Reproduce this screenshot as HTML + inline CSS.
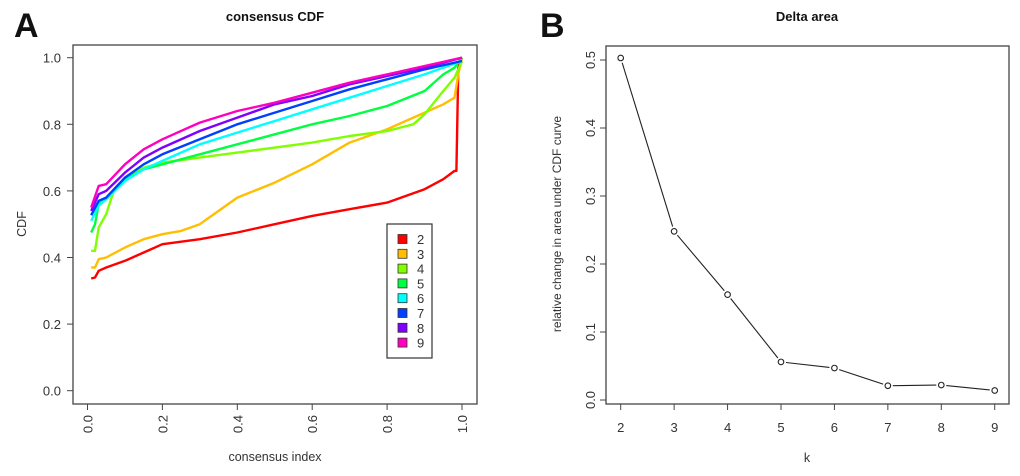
<!DOCTYPE html>
<html><head><meta charset="utf-8">
<style>
body{margin:0;background:#fff;width:1020px;height:476px;overflow:hidden}
svg{display:block;font-family:"Liberation Sans",Arial,sans-serif}
</style></head>
<body>
<svg id="svg" width="1020" height="476" viewBox="0 0 1020 476">
<text x="14" y="37" font-size="34" font-weight="bold" fill="#111">A</text>
<text x="275" y="21" font-size="13" font-weight="bold" text-anchor="middle" fill="#111">consensus CDF</text>
<rect x="73" y="45" width="404" height="359" fill="none" stroke="#444" stroke-width="1.3"/>
<g id="cdfAxes"></g>
<g id="cdfLines"></g>
<text x="275" y="461" font-size="12.5" text-anchor="middle" fill="#333">consensus index</text>
<text transform="translate(26,224) rotate(-90)" font-size="12.5" text-anchor="middle" fill="#333">CDF</text>
<g id="legend"><rect x="387" y="224" width="45" height="134" fill="#fff" stroke="#333" stroke-width="1.2"/></g>

<text x="540" y="37" font-size="34" font-weight="bold" fill="#111">B</text>
<text x="807" y="21" font-size="13" font-weight="bold" text-anchor="middle" fill="#111">Delta area</text>
<rect x="606" y="46" width="403" height="358" fill="none" stroke="#444" stroke-width="1.3"/>
<g id="deltaAxes"></g>
<g id="deltaMarks"></g>
<text x="807" y="462" font-size="12.5" text-anchor="middle" fill="#333">k</text>
<text transform="translate(561,224) rotate(-90)" font-size="12" text-anchor="middle" fill="#333">relative change in area under CDF curve</text>
</svg>
<script>
const cdfXTicks=[0,0.2,0.4,0.6,0.8,1.0];
const cdfYTicks=[0,0.2,0.4,0.6,0.8,1.0];
const seriesK=[2,3,4,5,6,7,8,9];
const seriesColors=["#ff0000","#ffbf00","#80ff00","#00ff40","#00ffff","#0040ff","#8000ff","#ff00bf"];
const cdfX2=[0.01,0.02,0.03,0.05,0.1,0.15,0.2,0.3,0.4,0.5,0.6,0.7,0.8,0.9,0.95,0.98,0.985,0.99,1.0];
const cdfY2=[0.337,0.34,0.36,0.37,0.39,0.415,0.44,0.455,0.475,0.50,0.525,0.545,0.565,0.605,0.635,0.66,0.66,0.97,1.0];
const cdfX3=[0.01,0.02,0.03,0.05,0.1,0.15,0.2,0.25,0.3,0.35,0.4,0.5,0.6,0.7,0.8,0.9,0.95,0.98,0.99,1.0];
const cdfY3=[0.37,0.37,0.395,0.40,0.43,0.455,0.47,0.48,0.50,0.54,0.58,0.625,0.68,0.745,0.785,0.835,0.86,0.88,0.95,1.0];
const cdfX4=[0.01,0.02,0.03,0.05,0.07,0.1,0.15,0.2,0.3,0.4,0.5,0.6,0.7,0.8,0.87,0.9,0.95,0.98,1.0];
const cdfY4=[0.42,0.42,0.49,0.53,0.60,0.64,0.67,0.685,0.70,0.715,0.73,0.745,0.765,0.78,0.80,0.83,0.90,0.94,0.99];
const cdfX5=[0.01,0.02,0.03,0.05,0.1,0.15,0.2,0.3,0.4,0.5,0.6,0.7,0.8,0.9,0.95,0.98,1.0];
const cdfY5=[0.475,0.50,0.56,0.575,0.635,0.665,0.68,0.71,0.74,0.77,0.80,0.825,0.855,0.90,0.95,0.97,1.0];
const cdfX6=[0.01,0.03,0.05,0.1,0.15,0.2,0.3,0.4,0.5,0.6,0.7,0.8,0.9,1.0];
const cdfY6=[0.51,0.555,0.575,0.63,0.665,0.69,0.74,0.775,0.81,0.845,0.88,0.915,0.95,0.99];
const cdfX7=[0.01,0.03,0.05,0.1,0.15,0.2,0.3,0.4,0.5,0.6,0.7,0.8,0.9,1.0];
const cdfY7=[0.527,0.57,0.58,0.64,0.68,0.71,0.755,0.80,0.835,0.87,0.905,0.935,0.965,0.99];
const cdfX8=[0.01,0.03,0.05,0.1,0.15,0.2,0.3,0.4,0.5,0.6,0.7,0.8,0.9,1.0];
const cdfY8=[0.54,0.59,0.60,0.655,0.70,0.73,0.78,0.82,0.86,0.885,0.92,0.945,0.97,1.0];
const cdfX9=[0.01,0.03,0.05,0.1,0.15,0.2,0.3,0.4,0.5,0.6,0.7,0.8,0.9,1.0];
const cdfY9=[0.55,0.615,0.62,0.68,0.725,0.755,0.805,0.84,0.865,0.895,0.925,0.95,0.975,1.0];
const deltaK=[2,3,4,5,6,7,8,9];
const deltaValues=[0.503,0.248,0.155,0.056,0.047,0.021,0.022,0.014];
const deltaYTicks=[0,0.1,0.2,0.3,0.4,0.5];

const NS="http://www.w3.org/2000/svg";
function mk(t,a,p){const e=document.createElementNS(NS,t);for(const k in a)e.setAttribute(k,a[k]);p.appendChild(e);return e;}
const cx=v=>87.5+v*374.5, cy=v=>390.7-v*333;
const dx=k=>620.7+(k-2)*53.43, dy=v=>400-v*680;

const ca=document.getElementById('cdfAxes');
mk('line',{x1:cx(0),x2:cx(1),y1:404,y2:404,stroke:'#444'},ca);
cdfXTicks.forEach(v=>{
 const l=mk('line',{x1:cx(v),x2:cx(v),y1:404,y2:410,stroke:'#444'},ca);
 
 
 const t=mk('text',{transform:`translate(${cx(v)+5},415) rotate(-90)`,'font-size':13,'text-anchor':'end',fill:'#333'},ca);
 t.textContent=v.toFixed(1);
 
 
});
cdfYTicks.forEach(v=>{
 const l=mk('line',{x1:67,x2:73,y1:cy(v),y2:cy(v),stroke:'#444'},ca);
 
 
 const t=mk('text',{x:61,y:cy(v)+5,'font-size':13,'text-anchor':'end',fill:'#333'},ca);
 t.textContent=v.toFixed(1);
 
 
});
const xs=[cdfX2,cdfX3,cdfX4,cdfX5,cdfX6,cdfX7,cdfX8,cdfX9], ys=[cdfY2,cdfY3,cdfY4,cdfY5,cdfY6,cdfY7,cdfY8,cdfY9];
const cl=document.getElementById('cdfLines');
seriesK.forEach((k,i)=>{
 const pts=xs[i].map((x,j)=>cx(x).toFixed(1)+','+cy(ys[i][j]).toFixed(1)).join(' ');
 const p=mk('polyline',{points:pts,fill:'none',stroke:seriesColors[i],'stroke-width':2.4,'stroke-linejoin':'round'},cl);
 
 
});
const lg=document.getElementById('legend');
seriesK.forEach((k,i)=>{
 const y=239+i*14.8;
 const r=mk('rect',{x:398,y:y-4.5,width:9,height:9,fill:seriesColors[i],stroke:'#333','stroke-width':0.8},lg);
 
 
 const t=mk('text',{x:417,y:y+5,'font-size':13,fill:'#333'},lg);
 t.textContent=k;
 
 
});

const da=document.getElementById('deltaAxes');
mk('line',{x1:dx(2),x2:dx(9),y1:404,y2:404,stroke:'#444'},da);
deltaK.forEach(k=>{
 const l=mk('line',{x1:dx(k),x2:dx(k),y1:404,y2:410,stroke:'#444'},da);
 
 
 const t=mk('text',{x:dx(k),y:432,'font-size':13,'text-anchor':'middle',fill:'#333'},da);
 t.textContent=k;
 
 
});
deltaYTicks.forEach(v=>{
 const l=mk('line',{x1:600,x2:606,y1:dy(v),y2:dy(v),stroke:'#444'},da);
 
 
 const t=mk('text',{transform:`translate(595,${dy(v)}) rotate(-90)`,'font-size':13,'text-anchor':'middle',fill:'#333'},da);
 t.textContent=v.toFixed(1);
 
 
});
const dm=document.getElementById('deltaMarks');
for(let i=0;i<deltaK.length-1;i++){
 const x1=dx(deltaK[i]),y1=dy(deltaValues[i]),x2=dx(deltaK[i+1]),y2=dy(deltaValues[i+1]);
 const L=Math.hypot(x2-x1,y2-y1),ux=(x2-x1)/L,uy=(y2-y1)/L,g=5;
 const s=mk('line',{x1:x1+ux*g,y1:y1+uy*g,x2:x2-ux*g,y2:y2-uy*g,stroke:'#222','stroke-width':1.1},dm);
 
 
}
deltaK.forEach((k,i)=>{
 const c=mk('circle',{cx:dx(k),cy:dy(deltaValues[i]),r:2.8,fill:'#fff',stroke:'#222','stroke-width':1.1},dm);
 
 
});
</script>
</body></html>
